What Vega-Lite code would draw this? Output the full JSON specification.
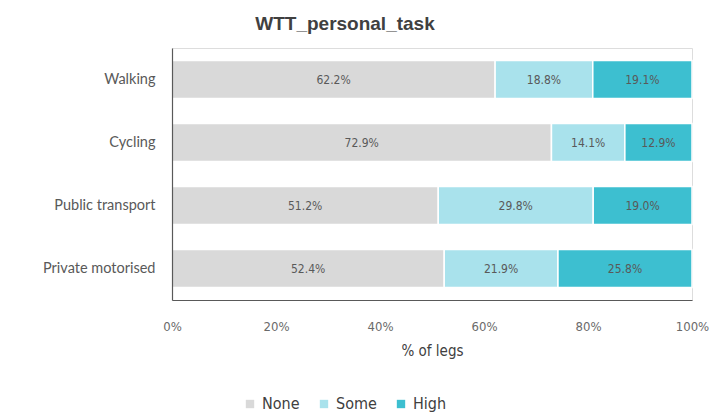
{
  "$schema": "https://vega.github.io/schema/vega-lite/v6.json",
  "autosize": "none",
  "width": 520,
  "height": 252,
  "padding": {"left": 172, "top": 48, "right": 21, "bottom": 119},
  "background": "white",
  "title": {
    "text": "WTT_personal_task",
    "font": "Liberation Sans",
    "fontSize": 19,
    "fontWeight": "bold",
    "color": "#404040",
    "anchor": "middle",
    "dx": -87,
    "offset": 14
  },
  "data": {
    "values": [
      {"mode": "Walking", "level": "None", "order": 1, "pct": 0.622},
      {"mode": "Walking", "level": "Some", "order": 2, "pct": 0.188},
      {"mode": "Walking", "level": "High", "order": 3, "pct": 0.191},
      {"mode": "Cycling", "level": "None", "order": 1, "pct": 0.729},
      {"mode": "Cycling", "level": "Some", "order": 2, "pct": 0.141},
      {"mode": "Cycling", "level": "High", "order": 3, "pct": 0.129},
      {"mode": "Public transport", "level": "None", "order": 1, "pct": 0.512},
      {"mode": "Public transport", "level": "Some", "order": 2, "pct": 0.298},
      {"mode": "Public transport", "level": "High", "order": 3, "pct": 0.190},
      {"mode": "Private motorised", "level": "None", "order": 1, "pct": 0.524},
      {"mode": "Private motorised", "level": "Some", "order": 2, "pct": 0.219},
      {"mode": "Private motorised", "level": "High", "order": 3, "pct": 0.258}
    ]
  },
  "encoding": {
    "y": {
      "field": "mode",
      "type": "nominal",
      "sort": ["Walking", "Cycling", "Public transport", "Private motorised"],
      "scale": {"paddingInner": 0.4, "paddingOuter": 0.2},
      "axis": {
        "title": null,
        "ticks": false,
        "zindex": 1,
        "labelFont": "Lato",
        "labelFontSize": 14.5,
        "labelColor": "#595959",
        "labelPadding": 17,
        "domainColor": "#595959",
        "domainWidth": 1.2
      }
    }
  },
  "layer": [
    {
      "mark": {"type": "bar", "stroke": "white", "strokeWidth": 1.5},
      "encoding": {
        "x": {
          "field": "pct",
          "type": "quantitative",
          "stack": "normalize",
          "scale": {"domain": [0, 1]},
          "axis": {
            "title": "% of legs",
            "format": ".0%",
            "values": [0, 0.2, 0.4, 0.6, 0.8, 1],
            "grid": false,
            "ticks": false,
            "zindex": 1,
            "labelFont": "DejaVu Sans Condensed, Roboto, sans-serif",
            "labelFontSize": 13,
            "labelColor": "#6a6a6a",
            "labelPadding": 20,
            "labelFlush": false,
            "titleFont": "DejaVu Sans Condensed, Roboto, sans-serif",
            "titleFontSize": 15,
            "titleFontWeight": "normal",
            "titleColor": "#404040",
            "titlePadding": 10,
            "domainColor": "#595959",
            "domainWidth": 1.2
          }
        },
        "order": {"field": "order", "type": "quantitative"},
        "color": {
          "field": "level",
          "type": "nominal",
          "sort": ["None", "Some", "High"],
          "scale": {"domain": ["None", "Some", "High"], "range": ["#d9d9d9", "#a9e2ec", "#3dbfd0"]},
          "legend": {
            "title": null,
            "orient": "none",
            "direction": "horizontal",
            "legendX": 70,
            "legendY": 348,
            "symbolType": "square",
            "symbolSize": 70,
            "symbolStrokeWidth": 0,
            "labelFont": "DejaVu Sans Condensed, Roboto, sans-serif",
            "labelFontSize": 16,
            "labelColor": "#404040",
            "columnPadding": 16,
            "labelOffset": 4
          }
        }
      }
    },
    {
      "transform": [
        {"stack": "pct", "groupby": ["mode"], "sort": [{"field": "order"}], "offset": "normalize", "as": ["s0", "s1"]},
        {"fold": ["s0", "s1"], "as": ["edge", "pos"]},
        {"aggregate": [{"op": "mean", "field": "pos", "as": "mid"}], "groupby": ["mode", "level", "pct"]}
      ],
      "mark": {"type": "text", "font": "DejaVu Sans Condensed, Roboto, sans-serif", "fontSize": 12, "color": "#595959"},
      "encoding": {
        "x": {"field": "mid", "type": "quantitative"},
        "text": {"field": "pct", "type": "quantitative", "format": ".1%"}
      }
    }
  ]
}
